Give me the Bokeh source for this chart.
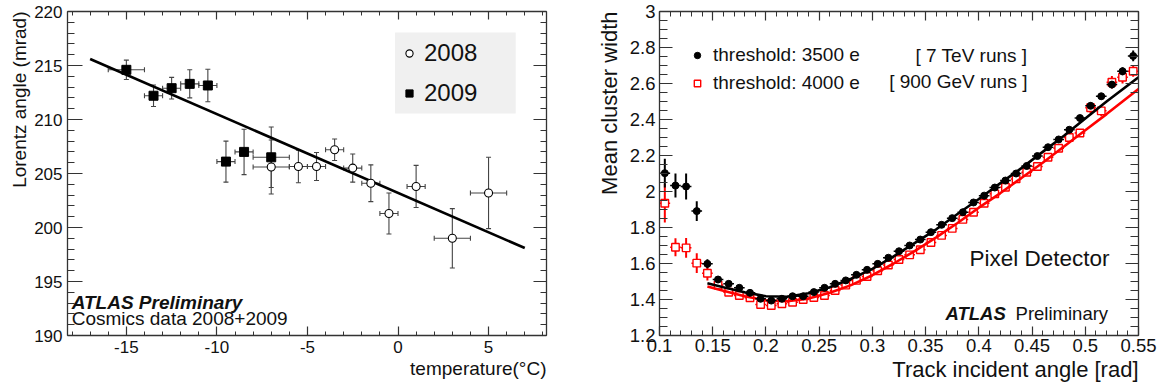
from bokeh.plotting import figure
from bokeh.layouts import row
from bokeh.models import (ColumnDataSource, Whisker, TeeHead, LinearAxis, SingleIntervalTicker,
                          CustomJSTickFormatter, Legend, LegendItem, Label, Range1d, BoxAnnotation,
                          Title)
from bokeh.embed import file_html
from bokeh.resources import INLINE

FONT = "Liberation Sans"
AX = "#333333"

# ---------------- left panel data ----------------
temp_2009 = [-15.0, -13.5, -12.5, -11.5, -10.5, -9.5, -8.5, -7.0]
lorentz_2009 = [214.6, 212.2, 212.9, 213.3, 213.15, 206.1, 207.0, 206.5]
temp_err_2009 = [1.0, 0.5, 0.5, 0.5, 0.5, 0.5, 0.5, 1.0]
lorentz_err_2009 = [0.9, 1.0, 1.0, 1.3, 1.5, 1.9, 2.1, 2.8]

temp_2008 = [-7.0, -5.5, -4.5, -3.5, -2.5, -1.5, -0.5, 1.0, 3.0, 5.0]
lorentz_2008 = [205.6, 205.65, 205.65, 207.2, 205.5, 204.1, 201.3, 203.8, 199.0, 203.2]
temp_err_2008 = [1.0, 0.5, 0.5, 0.5, 0.5, 0.5, 0.5, 0.5, 1.0, 1.0]
lorentz_err_2008 = [2.5, 1.5, 1.3, 1.0, 1.3, 1.7, 1.9, 1.95, 2.75, 3.3]

fit_temp = [-17.0, 7.0]
fit_lorentz = [215.6, 198.1]

# ---------------- right panel data ----------------
angle = [0.105, 0.115, 0.125, 0.135, 0.145, 0.155, 0.165, 0.175, 0.185, 0.195,
         0.205, 0.215, 0.225, 0.235, 0.245, 0.255, 0.265, 0.275, 0.285, 0.295,
         0.305, 0.315, 0.325, 0.335, 0.345, 0.355, 0.365, 0.375, 0.385, 0.395,
         0.405, 0.415, 0.425, 0.435, 0.445, 0.455, 0.465, 0.475, 0.485, 0.495,
         0.505, 0.515, 0.525, 0.535, 0.545]
angle_halfbin = 0.005
width_3500 = [2.102, 2.033, 2.028, 1.891, 1.598, 1.511, 1.487, 1.465, 1.437, 1.404,
              1.394, 1.404, 1.418, 1.418, 1.441, 1.465, 1.487, 1.506, 1.537, 1.565,
              1.598, 1.632, 1.668, 1.700, 1.733, 1.774, 1.815, 1.852, 1.885, 1.939,
              1.977, 2.022, 2.061, 2.100, 2.142, 2.197, 2.246, 2.289, 2.343, 2.408,
              2.476, 2.529, 2.594, 2.668, 2.753]
err_3500 = [0.080, 0.067, 0.072, 0.055, 0.025, 0.015, 0.012, 0.012, 0.012, 0.012,
            0.012, 0.012, 0.012, 0.012, 0.012, 0.012, 0.012, 0.012, 0.012, 0.012,
            0.012, 0.012, 0.012, 0.012, 0.012, 0.012, 0.012, 0.012, 0.012, 0.012,
            0.012, 0.012, 0.012, 0.012, 0.012, 0.012, 0.013, 0.013, 0.014, 0.015,
            0.017, 0.018, 0.020, 0.022, 0.030]
width_4000 = [1.935, 1.690, 1.687, 1.602, 1.546, 1.480, 1.440, 1.422, 1.410, 1.372,
              1.367, 1.376, 1.385, 1.400, 1.411, 1.422, 1.450, 1.480, 1.506, 1.528,
              1.560, 1.592, 1.622, 1.648, 1.676, 1.717, 1.756, 1.795, 1.845, 1.885,
              1.935, 1.987, 2.024, 2.070, 2.107, 2.139, 2.190, 2.240, 2.300, 2.325,
              2.465, 2.448, 2.607, 2.635, 2.668]
err_4000 = [0.107, 0.050, 0.055, 0.055, 0.040, 0.018, 0.015, 0.014, 0.014, 0.014,
            0.014, 0.014, 0.014, 0.014, 0.014, 0.014, 0.014, 0.014, 0.014, 0.014,
            0.014, 0.014, 0.014, 0.014, 0.014, 0.014, 0.014, 0.014, 0.014, 0.014,
            0.015, 0.015, 0.015, 0.016, 0.016, 0.017, 0.018, 0.019, 0.020, 0.022,
            0.030, 0.030, 0.035, 0.035, 0.030]

fit_angle = [0.145, 0.16, 0.18, 0.20, 0.22, 0.24, 0.26, 0.28, 0.30, 0.32, 0.34,
             0.36, 0.38, 0.40, 0.42, 0.44, 0.46, 0.48, 0.50, 0.52, 0.55]
fit_3500 = [1.490, 1.468, 1.440, 1.418, 1.415, 1.435, 1.468, 1.515, 1.570, 1.640, 1.715,
            1.790, 1.875, 1.958, 2.045, 2.130, 2.220, 2.310, 2.405, 2.500, 2.635]
fit_4000 = [1.472, 1.448, 1.418, 1.395, 1.390, 1.405, 1.437, 1.480, 1.535, 1.600, 1.670,
            1.745, 1.825, 1.910, 1.990, 2.075, 2.160, 2.250, 2.340, 2.430, 2.570]


def setup_axis(ax, ticker, fmt_code, major_in, minor_in, label_size="16px",
               show_labels=True, standoff=5):
    ax.ticker = ticker
    ax.formatter = CustomJSTickFormatter(code=fmt_code if show_labels else "return '';")
    ax.major_tick_in = major_in
    ax.major_tick_out = 0
    ax.minor_tick_in = minor_in
    ax.minor_tick_out = 0
    ax.axis_line_color = AX
    ax.axis_line_width = 1.3
    ax.major_tick_line_color = AX
    ax.minor_tick_line_color = AX
    ax.major_tick_line_width = 1.2
    ax.minor_tick_line_width = 1.0
    ax.major_label_text_font = FONT
    ax.major_label_text_color = "#111111"
    ax.major_label_text_font_size = label_size if show_labels else "0px"
    ax.major_label_standoff = standoff if show_labels else 0
    ax.axis_label = None


def axis_title(p, text, place, size, standoff):
    t = Title(text=text, align="right", text_font=FONT, text_font_size=size,
              text_font_style="normal", text_color="#111111", standoff=standoff)
    p.add_layout(t, place)


# ================= LEFT FIGURE =================
p1 = figure(width=590, height=390, x_range=Range1d(-18.25, 8.2), y_range=Range1d(190, 220),
            output_backend="svg", toolbar_location=None,
            min_border_left=67, min_border_right=44, min_border_top=11, min_border_bottom=55)
p1.xgrid.visible = False
p1.ygrid.visible = False
p1.outline_line_color = None
p1.background_fill_color = "white"
p1.border_fill_color = "white"

int_fmt = "return tick.toFixed(0);"
setup_axis(p1.xaxis[0], SingleIntervalTicker(interval=5, num_minor_ticks=5), int_fmt, 9, 4,
           "17px", True, 5)
setup_axis(p1.yaxis[0], SingleIntervalTicker(interval=5, num_minor_ticks=5), int_fmt, 15, 7,
           "17px", True, 5)
top1 = LinearAxis()
setup_axis(top1, SingleIntervalTicker(interval=5, num_minor_ticks=5), int_fmt, 8, 4, show_labels=False)
p1.add_layout(top1, "above")
right1 = LinearAxis()
setup_axis(right1, SingleIntervalTicker(interval=5, num_minor_ticks=5), int_fmt, 13, 6, show_labels=False)
p1.add_layout(right1, "right")

axis_title(p1, "temperature(°C)", "below", "19px", 0)
axis_title(p1, "Lorentz angle (mrad)", "left", "19px", 3)

# legend background box
p1.add_layout(BoxAnnotation(left=-0.165, right=6.5, bottom=210.56, top=218.06,
                            fill_color="#f0f0f0", fill_alpha=1.0, line_color=None,
                            level="underlay"))

# fit line
p1.line(fit_temp, fit_lorentz, line_color="black", line_width=2.6)


def add_errors(p, xs, ys, xe, ye, color):
    src = ColumnDataSource(dict(
        x=xs, y=ys,
        xlo=[a - b for a, b in zip(xs, xe)], xhi=[a + b for a, b in zip(xs, xe)],
        ylo=[a - b for a, b in zip(ys, ye)], yhi=[a + b for a, b in zip(ys, ye)]))
    wy = Whisker(base="x", lower="ylo", upper="yhi", source=src, dimension="height",
                 line_color=color, line_width=1.1, level="underlay",
                 upper_head=TeeHead(size=5, line_color=color, line_width=1.1),
                 lower_head=TeeHead(size=5, line_color=color, line_width=1.1))
    wx = Whisker(base="y", lower="xlo", upper="xhi", source=src, dimension="width",
                 line_color=color, line_width=1.1, level="underlay",
                 upper_head=TeeHead(size=5, line_color=color, line_width=1.1),
                 lower_head=TeeHead(size=5, line_color=color, line_width=1.1))
    p.add_layout(wy)
    p.add_layout(wx)
    return src


src08 = add_errors(p1, temp_2008, lorentz_2008, temp_err_2008, lorentz_err_2008, "#444444")
src09 = add_errors(p1, temp_2009, lorentz_2009, temp_err_2009, lorentz_err_2009, "#444444")

r08 = p1.scatter("x", "y", source=src08, marker="circle", size=8,
                 fill_color="white", line_color="black", line_width=1.1)
r09 = p1.scatter("x", "y", source=src09, marker="square", size=9,
                 fill_color="black", line_color="black")

leg1 = Legend(items=[LegendItem(label="2008", renderers=[r08]),
                     LegendItem(label="2009", renderers=[r09])],
              location=(333, 228), orientation="vertical",
              padding=6, spacing=12, glyph_width=18, glyph_height=28,
              label_standoff=6, label_height=28, margin=0,
              background_fill_alpha=0.0, border_line_color=None,
              label_text_font=FONT, label_text_font_size="24px", label_text_color="#111111")
p1.add_layout(leg1)

p1.add_layout(Label(x=-18.02, y=193.08, text="ATLAS Preliminary", text_font=FONT,
                    text_font_style="bold italic", text_font_size="19px",
                    text_baseline="middle", text_color="#111111"))
p1.add_layout(Label(x=-18.02, y=191.55, text="Cosmics data 2008+2009", text_font=FONT,
                    text_font_size="19px", text_baseline="middle", text_color="#111111"))

# ================= RIGHT FIGURE =================
p2 = figure(width=577, height=390, x_range=Range1d(0.1, 0.55), y_range=Range1d(1.2, 3.0),
            output_backend="svg", toolbar_location=None,
            min_border_left=69, min_border_right=29, min_border_top=11, min_border_bottom=55)
p2.xgrid.visible = False
p2.ygrid.visible = False
p2.outline_line_color = None

dec_fmt = "return parseFloat(tick.toFixed(2)).toString();"
setup_axis(p2.xaxis[0], SingleIntervalTicker(interval=0.05, num_minor_ticks=5), dec_fmt, 9, 5,
           "18.5px", True, 3)
setup_axis(p2.yaxis[0], SingleIntervalTicker(interval=0.2, num_minor_ticks=4), dec_fmt, 13, 8,
           "18.5px", True, 4)
top2 = LinearAxis()
setup_axis(top2, SingleIntervalTicker(interval=0.05, num_minor_ticks=5), dec_fmt, 9, 5, show_labels=False)
p2.add_layout(top2, "above")
right2 = LinearAxis()
setup_axis(right2, SingleIntervalTicker(interval=0.2, num_minor_ticks=4), dec_fmt, 13, 8, show_labels=False)
p2.add_layout(right2, "right")

axis_title(p2, "Track incident angle [rad]", "below", "22px", 0)
axis_title(p2, "Mean cluster width", "left", "22px", 9)


def make_src(xs, ys, es):
    return ColumnDataSource(dict(
        x=xs, y=ys,
        ylo=[a - b for a, b in zip(ys, es)], yhi=[a + b for a, b in zip(ys, es)],
        xlo=[a - angle_halfbin for a in xs], xhi=[a + angle_halfbin for a in xs]))


s40 = make_src(angle, width_4000, err_4000)
s35 = make_src(angle, width_3500, err_3500)

p2.segment(x0="x", y0="ylo", x1="x", y1="yhi", source=s40, line_color="red", line_width=2)
p2.segment(x0="xlo", y0="y", x1="xhi", y1="y", source=s40, line_color="red", line_width=1.5)
r40 = p2.scatter("x", "y", source=s40, marker="square", size=7.5, fill_color="white",
                 line_color="red", line_width=1.4)

p2.line(fit_angle, fit_4000, line_color="red", line_width=2.6)
p2.line(fit_angle, fit_3500, line_color="black", line_width=2.6)

p2.segment(x0="x", y0="ylo", x1="x", y1="yhi", source=s35, line_color="black", line_width=2)
p2.segment(x0="xlo", y0="y", x1="xhi", y1="y", source=s35, line_color="black", line_width=1.5)
r35 = p2.scatter("x", "y", source=s35, marker="circle", size=7, fill_color="black",
                 line_color="black")

leg2 = Legend(items=[LegendItem(label="threshold: 3500 e", renderers=[r35]),
                     LegendItem(label="threshold: 4000 e", renderers=[r40])],
              location=(30, 241), orientation="vertical",
              padding=5, spacing=6, glyph_width=16, glyph_height=22,
              label_standoff=8, label_height=22, margin=0,
              background_fill_alpha=0.0, border_line_color=None,
              label_text_font=FONT, label_text_font_size="19px", label_text_color="#111111")
p2.add_layout(leg2)

p2.add_layout(Label(x=0.4457, y=2.756, text="[ 7 TeV runs ]", text_font=FONT,
                    text_font_size="19px", text_align="right", text_baseline="middle",
                    text_color="#111111"))
p2.add_layout(Label(x=0.4457, y=2.611, text="[ 900 GeV runs ]", text_font=FONT,
                    text_font_size="19px", text_align="right", text_baseline="middle",
                    text_color="#111111"))
p2.add_layout(Label(x=0.5228, y=1.628, text="Pixel Detector", text_font=FONT,
                    text_font_size="22.5px", text_align="right", text_baseline="middle",
                    text_color="#111111"))
p2.add_layout(Label(x=0.3687, y=1.324, text="ATLAS", text_font=FONT,
                    text_font_style="bold italic", text_font_size="18.5px",
                    text_baseline="middle", text_color="#111111"))
p2.add_layout(Label(x=0.4345, y=1.324, text="Preliminary", text_font=FONT,
                    text_font_size="18.5px", text_baseline="middle", text_color="#111111"))

layout = row(p1, p2, spacing=0)
open("out.html", "w").write(file_html(layout, INLINE))
